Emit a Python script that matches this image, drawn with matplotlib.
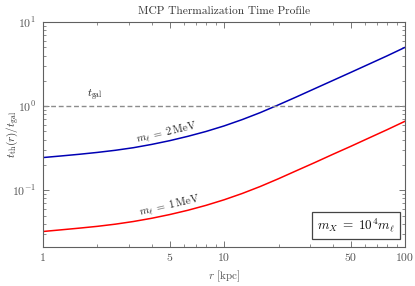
#!/usr/bin/env python3
"""MCP thermalization time profile"""

import matplotlib
matplotlib.use('Agg')
import matplotlib.pyplot as plt
from matplotlib.ticker import FixedLocator, NullFormatter

plt.rcParams['font.family'] = 'serif'
plt.rcParams['font.serif'] = ['cmr10', 'DejaVu Serif']
plt.rcParams['mathtext.fontset'] = 'cm'
plt.rcParams['axes.formatter.use_mathtext'] = True

# radius [kpc]
r_kpc = [1, 1.259, 1.585, 1.995, 2.512, 3.162, 3.981, 5.012, 6.310, 7.943, 10,
         12.59, 15.85, 19.95, 25.12, 31.62, 39.81, 50.12, 63.10, 79.43, 100]
# t_th / t_gal for m_l = 2 MeV
t_2mev = [0.245, 0.256, 0.268, 0.282, 0.299, 0.321, 0.351, 0.389, 0.438, 0.500,
          0.582, 0.692, 0.838, 1.035, 1.288, 1.611, 2.014, 2.518, 3.155, 3.954, 5.0]
# t_th / t_gal for m_l = 1 MeV
t_1mev = [0.0324, 0.0339, 0.0355, 0.0373, 0.0396, 0.0426, 0.0465, 0.0515, 0.0579,
          0.0662, 0.0771, 0.0916, 0.111, 0.137, 0.171, 0.213, 0.267, 0.333, 0.418,
          0.524, 0.662]
t_gal = 1.0

xticks = [1, 5, 10, 50, 100]
xticklabels = ['1', '5', '10', '50', '100']

frame = '#606060'
txt = '#333333'

fig = plt.figure(figsize=(4.15, 2.86), dpi=100)
ax = fig.add_axes([0.1036, 0.1364, 0.8724, 0.7866])

ax.plot(r_kpc, t_2mev, color='#0000b4', lw=1.1)
ax.plot(r_kpc, t_1mev, color='#ff0000', lw=1.1)
ax.axhline(t_gal, color='#8c8c8c', ls=(0, (3.5, 2)), lw=1.0)

ax.set_xscale('log')
ax.set_yscale('log')
ax.set_xlim(1, 100)
ax.set_ylim(0.0212, 10)

ax.xaxis.set_major_locator(FixedLocator(xticks))
ax.set_xticklabels(xticklabels)
ax.xaxis.set_minor_formatter(NullFormatter())

ax.tick_params(which='both', direction='in', top=True, right=True,
               colors=frame, labelcolor='#555555', labelsize=8.5)
ax.tick_params(which='major', length=4, width=0.6, pad=5)
ax.tick_params(which='minor', length=2, width=0.5)
for s in ax.spines.values():
    s.set_color(frame)
    s.set_linewidth(0.8)

ax.set_title('MCP Thermalization Time Profile', fontsize=8.2, color=txt, pad=6)
ax.set_xlabel(r'$r$ [kpc]', fontsize=8, color='#555555')
ax.set_ylabel(r'$t_{\rm th}(r)/t_{\rm gal}$', fontsize=8, color=txt)
ax.yaxis.set_label_coords(-0.062, 0.5)

ax.text(1.94, 1.34, r'$t_{\rm gal}$', fontsize=8, ha='center', va='center', color='#222222')
ax.text(4.84, 0.48, r'$m_\ell\;=\;2\,\mathrm{MeV}$', fontsize=7.8, ha='center', va='center',
        rotation=13, color='#222222')
ax.text(5.0, 0.065, r'$m_\ell\;=\;1\,\mathrm{MeV}$', fontsize=7.8, ha='center', va='center',
        rotation=13, color='#222222')

ax.text(0.972, 0.055, r'$m_X\;=\;10^4 m_\ell$', transform=ax.transAxes, fontsize=9.5,
        ha='right', va='bottom', color='#111111',
        bbox=dict(boxstyle='square,pad=0.35', fc='white', ec='#444444', lw=0.9))

plt.savefig('out.png', dpi=100)
plt.close()
